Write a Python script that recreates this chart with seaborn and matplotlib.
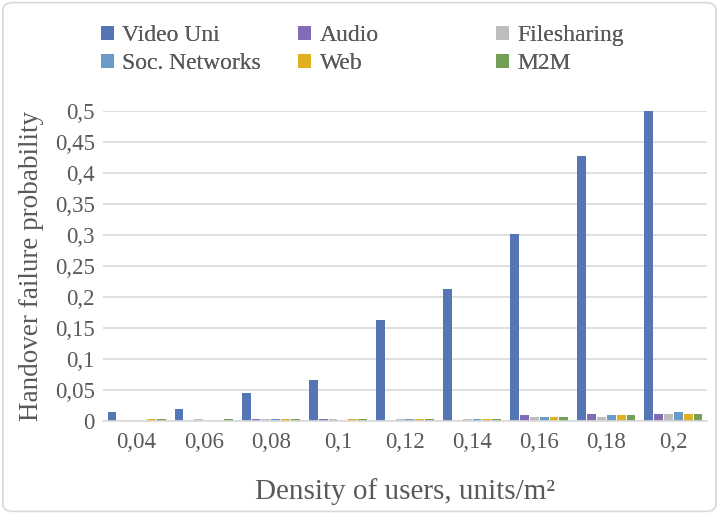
import pandas as pd
import matplotlib
matplotlib.use("Agg")
import matplotlib.pyplot as plt
import matplotlib.ticker as mticker
from matplotlib.patches import FancyBboxPatch
import seaborn as sns

sns.set_style("white")
plt.rcParams['font.family'] = ['Liberation Serif', 'DejaVu Serif']

# data
density = ["0,04", "0,06", "0,08", "0,1", "0,12", "0,14", "0,16", "0,18", "0,2"]
video_uni = [0.015, 0.019, 0.045, 0.066, 0.163, 0.213, 0.302, 0.427, 0.500]
audio = [0, 0, 0.003, 0.003, 0, 0, 0.009, 0.012, 0.012]
filesharing = [0, 0.003, 0.003, 0.003, 0.003, 0.004, 0.006, 0.006, 0.012]
soc_networks = [0, 0, 0.003, 0, 0.003, 0.003, 0.006, 0.009, 0.015]
web = [0.003, 0, 0.003, 0.003, 0.003, 0.003, 0.006, 0.009, 0.012]
m2m = [0.003, 0.003, 0.003, 0.003, 0.003, 0.004, 0.006, 0.009, 0.012]

series = {
    "Video Uni": video_uni,
    "Audio": audio,
    "Filesharing": filesharing,
    "Soc. Networks": soc_networks,
    "Web": web,
    "M2M": m2m,
}
colors = ["#4472C4", "#7E5FC2", "#BDBDBD", "#5B9BD5", "#FFC000", "#70AD47"]

rows = []
for name, vals in series.items():
    for d, v in zip(density, vals):
        rows.append({"Density": d, "Service": name, "Probability": v})
df = pd.DataFrame(rows)

fig = plt.figure(figsize=(7.19, 5.14), dpi=100)
ax = fig.add_axes([103 / 719, 1 - 421 / 514, 604 / 719, 310 / 514])

sns.barplot(data=df, x="Density", y="Probability", hue="Service",
            order=density, hue_order=list(series.keys()), palette=colors,
            width=0.88, gap=0.1, linewidth=0, ax=ax, legend=True)

txt = "#595959"
ax.set_ylim(0, 0.5)
ax.set_xlim(-0.5, len(density) - 0.5)
ax.yaxis.set_major_locator(mticker.MultipleLocator(0.05))
ax.yaxis.set_major_formatter(mticker.FuncFormatter(
    lambda v, p: "0" if abs(v) < 1e-9 else f"{v:.2f}".rstrip("0").replace(".", ",")))
ax.grid(axis="y", color="#D9D9D9", linewidth=1.2)
ax.set_axisbelow(True)
for s in ["top", "right", "left"]:
    ax.spines[s].set_visible(False)
ax.spines["bottom"].set_color("#D9D9D9")
ax.spines["bottom"].set_linewidth(1.2)
ax.tick_params(axis="both", length=0, labelsize=16.5, colors=txt)
ax.tick_params(axis="y", pad=6)
ax.tick_params(axis="x", pad=8)

ax.set_xlabel("Density of users, units/m²", fontsize=21, color=txt, labelpad=18)
ax.set_ylabel("Handover failure probability", fontsize=19.5, color=txt, labelpad=8)

# legend: one small legend per column so the columns sit where they do in the reference
handles, labels = ax.get_legend_handles_labels()
ax.get_legend().remove()
col_x = [80, 277, 475]
for c, x0 in enumerate(col_x):
    hs = [handles[c], handles[c + 3]]
    ls = [labels[c], labels[c + 3]]
    leg = fig.legend(hs, ls, loc="upper left",
                     bbox_to_anchor=(x0 / 719, 1 - 4 / 514), frameon=False,
                     fontsize=17, labelcolor=txt, handlelength=0.55,
                     handleheight=0.55, handletextpad=0.35, labelspacing=0.3)
    fig.add_artist(leg)

fig.patches.append(FancyBboxPatch((0.004, 0.005), 0.992, 0.99, transform=fig.transFigure,
                                  boxstyle="round,pad=0,rounding_size=0.015",
                                  facecolor="none", edgecolor="#D9D9D9", linewidth=1.2))

fig.savefig("out.png", dpi=100)
